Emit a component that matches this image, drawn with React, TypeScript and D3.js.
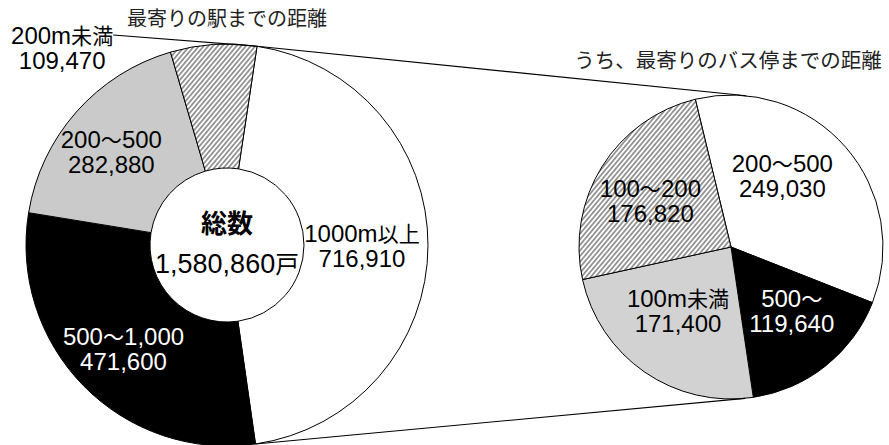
import React from 'react'
import * as d3 from 'd3'

// 最寄りの駅までの距離 (clockwise, starting just right of 12 o'clock)
const stationTitle = '最寄りの駅までの距離'
const stationCategories = ['1000m以上', '500～1,000', '200～500', '200m未満']
const stationValues = [716910, 471600, 282880, 109470]
const totalLabel = '総数'
const totalValue = 1580860
const totalUnit = '戸'

// うち、最寄りのバス停までの距離
const busTitle = 'うち、最寄りのバス停までの距離'
const busCategories = ['200～500', '500～', '100m未満', '100～200']
const busValues = [249030, 119640, 171400, 176820]

// styles, same order as the categories
const stationFills = ['#ffffff', '#000000', '#cacaca', 'url(#hatch)']
const busFills = ['#ffffff', '#000000', '#d2d2d2', 'url(#hatch)']
const stationText = ['#000', '#fff', '#000', '#000']
const busText = ['#000', '#fff', '#000', '#000']

const W = 889
const H = 445
const FONT = "'Liberation Sans', 'Noto Sans CJK JP', sans-serif"
const fmt = d3.format(',')

// layout
const left = { cx: 227, cy: 245, r: 201, r0: 77, start: 0.15, labelR: 145 }
const right = { cx: 731, cy: 247, r: 152, start: -0.237, labelR: 88 }
const leftNudge: [number, number][] = [[-10, 0], [0, 2], [-7, 3], [0, 0]]
const rightNudge: [number, number][] = [[-15, -13], [6, -5], [-3, -8], [-6, 1]]
const outsideIndex = 3

const cjk = /([\u3000-\u30ff\u4e00-\u9fff\uff00-\uffef]+)/

function runs(text: string, size: number) {
  return text.split(cjk).filter(s => s).map((s, i) =>
    cjk.test(s)
      ? <tspan key={i} fontSize={size * 0.88}>{s}</tspan>
      : <tspan key={i}>{s}</tspan>)
}

const makePie = (values: number[], start: number) =>
  d3.pie<number>().sort(null).value(d => d)
    .startAngle(start).endAngle(start + Math.PI * 2)(values)

const polar = (cx: number, cy: number, r: number, a: number): [number, number] =>
  [cx + r * Math.sin(a), cy - r * Math.cos(a)]

// tangent point on circle (cx, cy, r) for a line coming from p
function tangent(p: [number, number], cx: number, cy: number, r: number, sign: number): [number, number] {
  const dx = p[0] - cx, dy = p[1] - cy
  const d = Math.hypot(dx, dy)
  const a = Math.atan2(dy, dx) + sign * Math.acos(r / d)
  return [cx + r * Math.cos(a), cy + r * Math.sin(a)]
}

const Label = ({ x, y, lines, fill, size }: { x: number, y: number, lines: string[], fill: string, size: number }) => (
  <g fill={fill} fontSize={size} textAnchor="middle">
    {lines.map((l, i) => (
      <text key={i} x={x} y={y - 4 + i * 25}>{runs(l, size)}</text>
    ))}
  </g>
)

export default function App() {
  const sArcs = makePie(stationValues, left.start)
  const bArcs = makePie(busValues, right.start)

  const sArc = d3.arc<d3.PieArcDatum<number>>().innerRadius(left.r0).outerRadius(left.r)
  const bArc = d3.arc<d3.PieArcDatum<number>>().innerRadius(0).outerRadius(right.r)
  const sLab = d3.arc<d3.PieArcDatum<number>>().innerRadius(left.labelR).outerRadius(left.labelR)
  const bLab = d3.arc<d3.PieArcDatum<number>>().innerRadius(right.labelR).outerRadius(right.labelR)

  // connector lines between the two pies
  const topPt = polar(left.cx, left.cy, left.r, sArcs[0].startAngle)
  const botPt = polar(left.cx, left.cy, left.r, sArcs[0].endAngle)
  const topTan = tangent(topPt, right.cx, right.cy, right.r, 1)
  const botTan = tangent(botPt, right.cx, right.cy, right.r, -1)

  const extX = left.cx - left.r * 0.82
  const extY = left.cy - left.r * 0.98
  const leaderStart: [number, number] = [extX + 51, extY - 13]

  return (
    <svg width={W} height={H} fontFamily={FONT}
      style={{ position: 'absolute', left: 0, top: 0, background: '#fff' }}>
      <defs>
        <pattern id="hatch" patternUnits="userSpaceOnUse" width={3.6} height={10}
          patternTransform="rotate(40)">
          <rect width={3.6} height={10} fill="#fff" />
          <line x1={1.8} y1={0} x2={1.8} y2={10} stroke="#000" strokeWidth={0.8} />
        </pattern>
      </defs>

      <text x={left.cx} y={26} textAnchor="middle" fontSize={20} fill="#222">{stationTitle}</text>
      <text x={right.cx - 3} y={68} textAnchor="middle" fontSize={20.5} fill="#222">{busTitle}</text>

      <g transform={`translate(${left.cx},${left.cy})`}>
        {sArcs.map((a, i) => (
          <path key={i} d={sArc(a) || ''} fill={stationFills[i]} stroke="#000" strokeWidth={1} />
        ))}
      </g>
      <g transform={`translate(${right.cx},${right.cy})`}>
        {bArcs.map((a, i) => (
          <path key={i} d={bArc(a) || ''} fill={busFills[i]} stroke="#000" strokeWidth={1} />
        ))}
      </g>

      <path d={`M${leaderStart}L${topPt}L${topTan}`} fill="none" stroke="#000" strokeWidth={1.1} />
      <path d={`M${botPt}L${botTan}`} fill="none" stroke="#000" strokeWidth={1.1} />

      {sArcs.map((a, i) => {
        const lines = [stationCategories[i], fmt(stationValues[i])]
        if (i === outsideIndex) {
          return <Label key={i} x={extX} y={extY} lines={lines} fill="#000" size={24} />
        }
        const [x, y] = sLab.centroid(a)
        return <Label key={i} x={left.cx + x + leftNudge[i][0]} y={left.cy + y + leftNudge[i][1]}
          lines={lines} fill={stationText[i]} size={24} />
      })}

      {bArcs.map((a, i) => {
        const [x, y] = bLab.centroid(a)
        return <Label key={i} x={right.cx + x + rightNudge[i][0]} y={right.cy + y + rightNudge[i][1]}
          lines={[busCategories[i], fmt(busValues[i])]} fill={busText[i]} size={24} />
      })}

      <text x={left.cx} y={left.cy - 12} textAnchor="middle" fontSize={26} fontWeight="bold">{totalLabel}</text>
      <text x={left.cx} y={left.cy + 28} textAnchor="middle" fontSize={27}>
        {runs(fmt(totalValue) + totalUnit, 27)}
      </text>
    </svg>
  )
}
